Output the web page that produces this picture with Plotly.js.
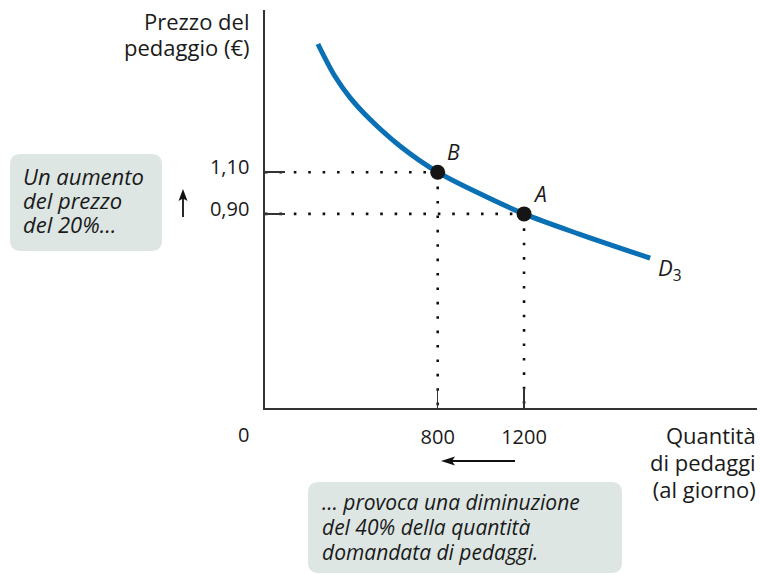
<!DOCTYPE html>
<html>
<head>
<meta charset="utf-8">
<script src="https://cdn.plot.ly/plotly-3.0.1.min.js"></script>
<style>html,body{margin:0;padding:0;background:#fff;}#chart{width:760px;height:575px;}</style>
</head>
<body>
<div id="chart"></div>
<script>
// Demand curve D3 (quantity of tolls per day, price in €)
var curveQ = [245, 324, 393, 486, 625, 800, 1013, 1200, 1459, 1784];
var curveP = [1.715, 1.56, 1.459, 1.354, 1.226, 1.10, 0.988, 0.90, 0.802, 0.688];

// Highlighted points
var pointLabels = ['B', 'A'];
var pointQ = [800, 1200];
var pointP = [1.10, 0.90];

// Tick labels
var xTickVals = [800, 1200];
var xTickText = ['800', '1200'];
var yTickVals = [1.10, 0.90];
var yTickText = ['1,10', '0,90'];

// Texts (one entry per line)
var yTitleLines = ['Prezzo del', 'pedaggio (€)'];
var xTitleLines = ['Quantità', 'di pedaggi', '(al giorno)'];
var noteUpLines = ['Un aumento', 'del prezzo', 'del 20%…'];
var noteDownLines = ['… provoca una diminuzione', 'del 40% della quantità', 'domandata di pedaggi.'];

var FONT = 'Open Sans, Noto Sans, sans-serif';
var TXT = '#1a1a1a';
var AX = '#333333';
var BLUE = '#0a70b5';
var BOX = '#dde6e3';

var xRange = [0, 2279];
var yRange = [-0.031, 1.878];

// plot area in pixels: left 265, top 10, width 492, height 398
function px(x) { return (x - 265) / 492; }
function py(y) { return (408 - y) / 398; }

var traces = [
  {
    x: curveQ, y: curveP, type: 'scatter', mode: 'lines',
    line: {color: BLUE, width: 5, shape: 'spline', smoothing: 1.0},
    hoverinfo: 'skip', showlegend: false
  },
  {
    x: pointQ, y: pointP, type: 'scatter', mode: 'markers',
    marker: {color: '#151515', size: 15},
    hoverinfo: 'skip', showlegend: false
  }
];

function roundedRect(w, h, r) {
  var x0 = -w / 2, x1 = w / 2, y0 = -h / 2, y1 = h / 2;
  return 'M ' + (x0 + r) + ' ' + y0 +
    ' L ' + (x1 - r) + ' ' + y0 + ' Q ' + x1 + ' ' + y0 + ' ' + x1 + ' ' + (y0 + r) +
    ' L ' + x1 + ' ' + (y1 - r) + ' Q ' + x1 + ' ' + y1 + ' ' + (x1 - r) + ' ' + y1 +
    ' L ' + (x0 + r) + ' ' + y1 + ' Q ' + x0 + ' ' + y1 + ' ' + x0 + ' ' + (y1 - r) +
    ' L ' + x0 + ' ' + (y0 + r) + ' Q ' + x0 + ' ' + y0 + ' ' + (x0 + r) + ' ' + y0 + ' Z';
}

var shapes = [
  {type: 'path', xref: 'paper', yref: 'paper', xsizemode: 'pixel', ysizemode: 'pixel',
   xanchor: px(86), yanchor: py(202.5), path: roundedRect(152, 97, 11),
   fillcolor: BOX, line: {width: 0}, layer: 'below'},
  {type: 'path', xref: 'paper', yref: 'paper', xsizemode: 'pixel', ysizemode: 'pixel',
   xanchor: px(465), yanchor: py(527.5), path: roundedRect(314, 91, 11),
   fillcolor: BOX, line: {width: 0}, layer: 'below'},
  // up arrow (price increase)
  {type: 'line', xref: 'paper', yref: 'paper', x0: px(183), x1: px(183), y0: py(217), y1: py(198),
   line: {color: '#111', width: 1.8}},
  {type: 'path', xref: 'paper', yref: 'paper', xsizemode: 'pixel', ysizemode: 'pixel',
   xanchor: px(183), yanchor: py(189), path: 'M 0 0 L -4.5 -12 L 0 -9.5 L 4.5 -12 Z',
   fillcolor: '#111', line: {width: 0}},
  // left arrow (quantity decrease)
  {type: 'line', xref: 'paper', yref: 'paper', x0: px(515), x1: px(450), y0: py(461), y1: py(461),
   line: {color: '#111', width: 1.8}},
  {type: 'path', xref: 'paper', yref: 'paper', xsizemode: 'pixel', ysizemode: 'pixel',
   xanchor: px(441), yanchor: py(461), path: 'M 0 0 L 14 4.5 L 11 0 L 14 -4.5 Z',
   fillcolor: '#111', line: {width: 0}}
];
for (var i = 0; i < pointQ.length; i++) {
  shapes.push({type: 'line', xref: 'x', yref: 'y', x0: 0, x1: pointQ[i], y0: pointP[i], y1: pointP[i],
    line: {color: '#111', width: 2.6, dash: '2.6px,11.8px'}, layer: 'below'});
  shapes.push({type: 'line', xref: 'x', yref: 'y', x0: pointQ[i], x1: pointQ[i], y0: pointP[i], y1: yRange[0],
    line: {color: '#111', width: 2.6, dash: '2.6px,11.8px'}, layer: 'below'});
}

// one multi-line annotation per block; base size sets the line spacing (1.3 em),
// the span sets the visible glyph size
function block(lines, xPix, yPix, anchor, baseSize, glyphSize, italic) {
  var parts = lines.map(function (s) {
    var t = '<span style="font-size:' + glyphSize + 'px">' + s + '</span>';
    return italic ? '<i>' + t + '</i>' : t;
  });
  return {xref: 'paper', yref: 'paper', x: px(xPix), y: py(yPix),
    xanchor: anchor, yanchor: 'middle', align: anchor, showarrow: false,
    text: parts.join('<br>'), font: {family: FONT, size: baseSize, color: TXT}};
}

var annotations = [
  block(yTitleLines, 251, 34, 'right', 20, 22, false),
  block(xTitleLines, 758, 462, 'right', 20.8, 22, false),
  block(noteUpLines, 21, 200, 'left', 18.5, 22, true),
  block(noteDownLines, 320, 527, 'left', 19.2, 21, true),
  {xref: 'paper', yref: 'paper', x: px(243), y: py(434), xanchor: 'center', yanchor: 'middle',
   text: '0', showarrow: false, font: {family: FONT, size: 20, color: TXT}},
  {xref: 'x', yref: 'y', x: curveQ[curveQ.length - 1], y: curveP[curveP.length - 1], xshift: 20, yshift: -11,
   xanchor: 'center', yanchor: 'middle', text: '<i>D</i><sub>3</sub>', showarrow: false,
   font: {family: FONT, size: 22, color: TXT}}
];
for (var j = 0; j < pointLabels.length; j++) {
  annotations.push({xref: 'x', yref: 'y', x: pointQ[j], y: pointP[j], xshift: 16, yshift: 20,
    xanchor: 'center', yanchor: 'middle', text: '<i>' + pointLabels[j] + '</i>', showarrow: false,
    font: {family: FONT, size: 21, color: TXT}});
}

var layout = {
  width: 760, height: 575,
  margin: {l: 265, r: 3, t: 10, b: 167, pad: 0},
  paper_bgcolor: '#ffffff', plot_bgcolor: 'rgba(0,0,0,0)',
  showlegend: false,
  font: {family: FONT, size: 20, color: TXT},
  xaxis: {
    range: xRange, showgrid: false, zeroline: false, showline: true, linecolor: AX, linewidth: 1.6,
    ticks: 'inside', ticklen: 20, tickwidth: 1.5, tickcolor: AX,
    tickmode: 'array', tickvals: xTickVals, ticktext: xTickText,
    ticklabelstandoff: 10, tickfont: {family: FONT, size: 20, color: TXT}, fixedrange: true
  },
  yaxis: {
    range: yRange, showgrid: false, zeroline: false, showline: true, linecolor: AX, linewidth: 1.6,
    ticks: 'inside', ticklen: 20, tickwidth: 1.5, tickcolor: AX,
    tickmode: 'array', tickvals: yTickVals, ticktext: yTickText,
    ticklabelstandoff: 10, ticklabelshift: -5, tickfont: {family: FONT, size: 20, color: TXT}, fixedrange: true
  },
  shapes: shapes,
  annotations: annotations
};

Plotly.newPlot('chart', traces, layout, {staticPlot: true, displayModeBar: false});
</script>
</body>
</html>
